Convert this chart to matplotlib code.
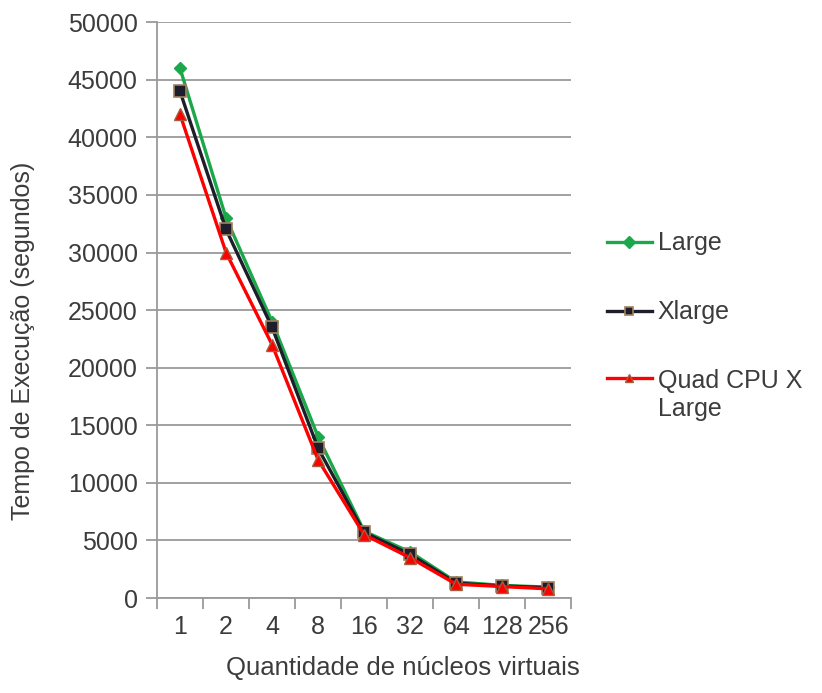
import numpy as np
import matplotlib
matplotlib.use('Agg')
import matplotlib.pyplot as plt
from matplotlib.ticker import FixedLocator, NullFormatter

plt.rcParams['font.family'] = ['Liberation Sans', 'DejaVu Sans']

nucleos = ['1', '2', '4', '8', '16', '32', '64', '128', '256']
large = [46000, 33000, 24000, 14000, 5800, 4000, 1400, 1100, 950]
xlarge = [44000, 32000, 23500, 13000, 5700, 3800, 1300, 1050, 900]
quad = [42000, 30000, 22000, 12000, 5500, 3500, 1200, 1000, 800]

txt = '#3c3c3c'
grid_c = '#9a9a9a'
fs = 18

fig = plt.figure(figsize=(8.22, 6.93), dpi=100)
ax = fig.add_axes([0.191, 0.137, 0.504, 0.831])

x = np.arange(len(nucleos))
ax.plot(x, large, color='#1aa84a', lw=2.4, marker='D', ms=6,
        mec='#1aa84a', label='Large', zorder=3)
ax.plot(x, xlarge, color='#1e1e2a', lw=2.4, marker='s', ms=8,
        mec='#a08060', mew=1.2, label='Xlarge', zorder=4)
ax.plot(x, quad, color='#ff0000', lw=2.4, marker='^', ms=9,
        mec='#a06040', mew=1.0, label='Quad CPU X\nLarge', zorder=5)

ax.set_xlim(-0.5, len(nucleos) - 0.5)
ax.set_ylim(0, 50000)
ax.set_yticks(np.arange(0, 50001, 5000))
ax.yaxis.grid(True, color=grid_c, lw=1.3)
ax.set_axisbelow(True)

# category labels centred, tick marks between categories
ax.xaxis.set_major_locator(FixedLocator(np.arange(-0.5, len(nucleos), 1.0)))
ax.xaxis.set_major_formatter(NullFormatter())
ax.set_xticks(x, minor=True)
ax.set_xticklabels(nucleos, minor=True)
ax.tick_params(axis='x', which='minor', length=0, pad=12, labelsize=fs, labelcolor=txt)
ax.tick_params(axis='x', which='major', length=8, width=1.3, color=grid_c)
ax.tick_params(axis='y', length=8, width=1.3, color=grid_c, labelsize=fs,
               labelcolor=txt, pad=6)

for s in ['top', 'right']:
    ax.spines[s].set_visible(False)
for s in ['left', 'bottom']:
    ax.spines[s].set_color(grid_c)
    ax.spines[s].set_linewidth(1.3)

ax.set_xlabel('Quantidade de núcleos virtuais', fontsize=18.5, color=txt)
ax.xaxis.set_label_coords(0.594, -0.10)
ax.set_ylabel('Tempo de Execução (segundos)', fontsize=fs, color=txt)
ax.yaxis.set_label_coords(-0.295, 0.446)

leg = fig.legend(*ax.get_legend_handles_labels(), loc='upper left',
                 bbox_to_anchor=(0.738, 0.666), frameon=False, borderpad=0,
                 borderaxespad=0, fontsize=fs, labelspacing=1.8,
                 handlelength=1.8, handletextpad=0.25, labelcolor=txt)
for h in leg.legend_handles:
    h.set_markersize(6)
# keep the marker level with the first line of the two-line entry
rows = leg._legend_handle_box.get_children()[0].get_children()
rows[-1].align = 'top'

fig.savefig('out.png', dpi=100)
